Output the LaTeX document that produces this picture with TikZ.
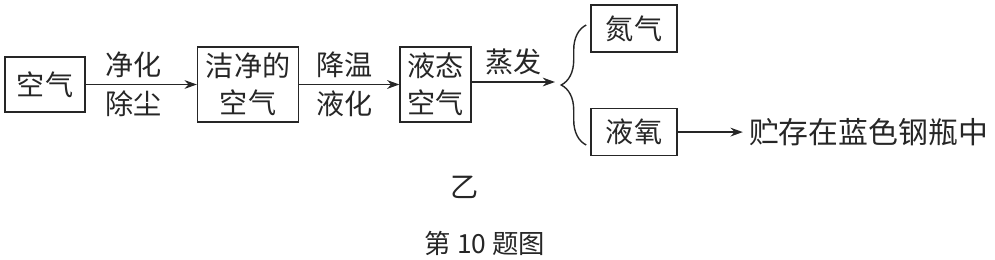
\documentclass[tikz,border=0pt]{standalone}
\usepackage{fontspec}
\newfontfamily\cjk{Noto Sans CJK SC}
\usepackage{tikz}
\usetikzlibrary{positioning, arrows.meta, decorations.pathreplacing}

\begin{document}
\begin{tikzpicture}[
    box/.style={rectangle, draw=black!85, line width=0.9pt, align=center, text=black!85, font=\cjk\fontsize{16}{21}\selectfont, inner sep=0pt},
    lbl/.style={text=black!85, font=\cjk\fontsize{16}{20}\selectfont},
    arrow/.style={-{Stealth[length=7pt, width=5pt]}, draw=black!85, line width=0.8pt}
]
    \useasboundingbox (0,0) rectangle (19.9,-5.2);

    % Main chain of boxes
    \node[box, minimum width=1.6cm, minimum height=1.1cm] (air) at (0.9,-1.69) {空气};
    \node[box, minimum width=2.02cm, minimum height=1.5cm, right=2.22cm of air] (clean) {洁净的\\空气};
    \node[box, minimum width=1.42cm, minimum height=1.5cm, right=2.0cm of clean] (liquid) {液态\\空气};

    % Products
    \node[box, minimum width=1.72cm, minimum height=0.94cm] (nitro) at (12.68,-0.57) {氮气};
    \node[box, minimum width=1.72cm, minimum height=0.94cm, below=1.1cm of nitro] (oxy) {液氧};
    \node[lbl, font=\cjk\fontsize{17}{20}\selectfont, right=1.3cm of oxy] (store) {贮存在蓝色钢瓶中};

    % Brace
    \coordinate (brtip) at (11.1,-1.64);
    \draw[black!85, line width=0.8pt, decorate, decoration={brace, amplitude=0.5cm}]
        ([xshift=-0.08cm]oxy.west |- 0,-2.9) -- ([xshift=-0.08cm]nitro.west |- 0,-0.5);

    % Arrows
    \draw[arrow] (air) -- node[lbl, above, xshift=-0.15cm] {净化} node[lbl, below, xshift=-0.15cm] {除尘} (clean);
    \draw[arrow] (clean) -- node[lbl, above, xshift=-0.1cm] {降温} node[lbl, below, xshift=-0.1cm] {液化} (liquid);
    \draw[arrow] (liquid.east |- brtip) -- node[lbl, above] {蒸发} (brtip);
    \draw[arrow] (oxy) -- (store);

    % Captions
    \node[lbl] (sub) at (9.3,-3.74) {乙};
    \node[lbl, font=\cjk\fontsize{15}{18}\selectfont] (cap) at (9.7,-4.86) {第 10 题图};

\end{tikzpicture}
\end{document}
